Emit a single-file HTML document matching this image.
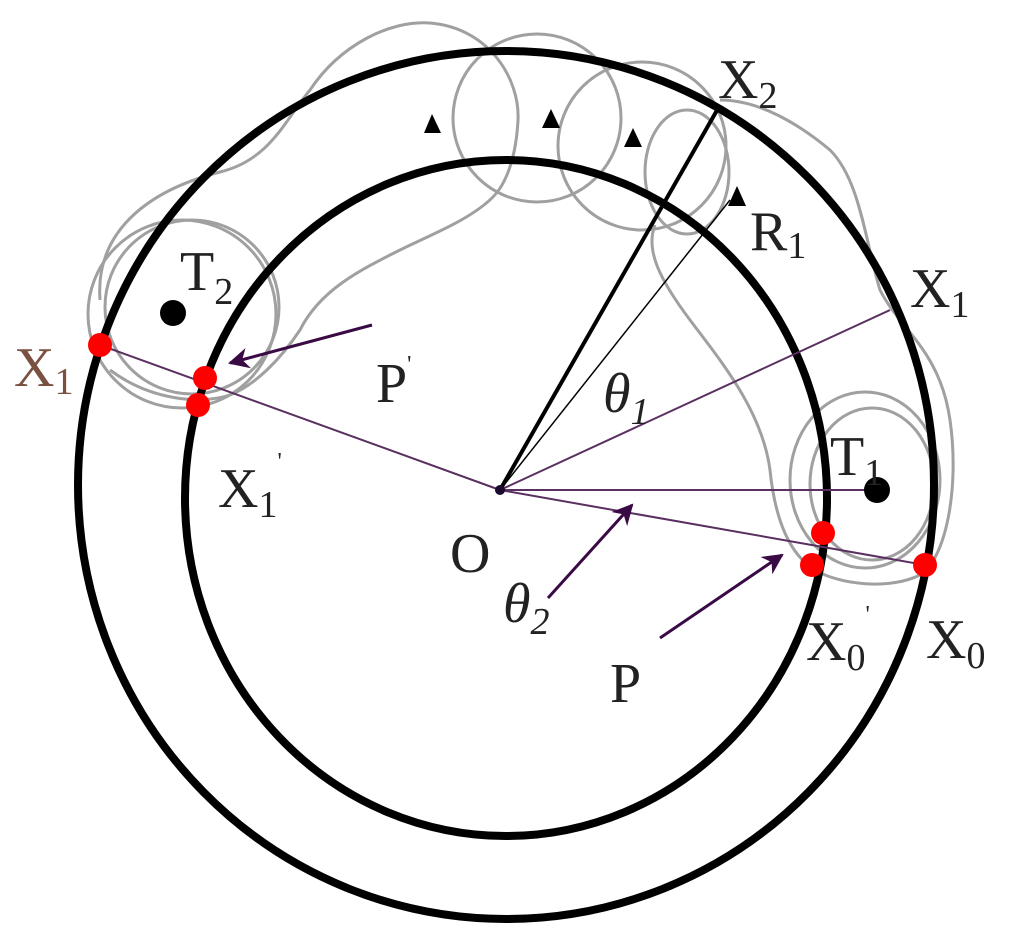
<!DOCTYPE html>
<html><head><meta charset="utf-8"><style>
html,body{margin:0;padding:0;background:#fff;width:1011px;height:944px;overflow:hidden}
text{font-family:"Liberation Serif",serif;fill:#222}
</style></head><body>
<svg width="1011" height="944" viewBox="0 0 1011 944" xmlns="http://www.w3.org/2000/svg">
<defs>
<marker id="ah" viewBox="0 0 10 10" refX="9" refY="5" markerWidth="7" markerHeight="7" orient="auto"><path d="M0,0 L10,5 L0,10 L3,5 z" fill="#3a0a45"/></marker>
</defs>
<g fill="none" stroke="#a0a0a0" stroke-width="3">
<circle cx="537" cy="118" r="84"/>
<circle cx="642" cy="146" r="84"/>
<ellipse cx="687" cy="172" rx="42" ry="62"/>
<circle cx="192" cy="307" r="87"/>
<circle cx="182" cy="314" r="94"/>
<ellipse cx="865" cy="480" rx="75" ry="88"/>
<ellipse cx="872" cy="484" rx="62" ry="76"/>
<path d="M100,300 C95,230 150,190 220,172 C270,160 285,120 310,90 C340,45 390,20 430,23 C490,28 520,80 518,120 C516,160 505,185 493,197 C470,220 430,235 400,250 C360,270 320,290 300,330 C280,360 255,385 230,395 C200,405 150,400 110,370"/>
<path d="M720,100 C760,100 800,125 830,150 C860,180 865,240 880,290 C900,330 940,350 950,420 C960,490 945,560 920,575 C890,590 840,585 815,570 C790,555 775,520 770,470 C762,410 720,360 690,320 C660,280 645,250 655,225"/>
</g>
<ellipse cx="506" cy="485" rx="428" ry="434" fill="none" stroke="#000" stroke-width="8"/>
<ellipse cx="506" cy="498" rx="321" ry="338" fill="none" stroke="#000" stroke-width="8"/>
<g stroke="#5a3060" stroke-width="2" fill="none">
<line x1="100" y1="345" x2="500" y2="490"/>
<line x1="500" y1="490" x2="890" y2="310"/>
<line x1="500" y1="490" x2="877" y2="490"/>
<line x1="500" y1="490" x2="925" y2="565"/>
</g>
<line x1="500" y1="490" x2="720" y2="105" stroke="#000" stroke-width="4"/>
<line x1="500" y1="490" x2="730" y2="200" stroke="#000" stroke-width="1.5"/>
<g stroke="#3a0a45" stroke-width="3" fill="none" marker-end="url(#ah)">
<line x1="372" y1="325" x2="230" y2="363"/>
<line x1="548" y1="598" x2="632" y2="505"/>
<line x1="660" y1="638" x2="782" y2="555"/>
</g>
<circle cx="500" cy="490" r="5" fill="#1a0a30"/>
<g fill="#000">
<polygon points="424,133 432,114 441,133"/>
<polygon points="542,128 551,109 560,128"/>
<polygon points="624,147 633,128 642,147"/>
<polygon points="728,206 737,186 746,206"/>
<circle cx="173" cy="313" r="13"/>
<circle cx="877" cy="490" r="13"/>
</g>
<g fill="#f00">
<circle cx="100" cy="345" r="12"/>
<circle cx="205" cy="378" r="12"/>
<circle cx="198" cy="405" r="12"/>
<circle cx="823" cy="533" r="12"/>
<circle cx="812" cy="565" r="12"/>
<circle cx="925" cy="565" r="12"/>
</g>
<g font-size="56">
<text x="14" y="386" style="fill:#7a5040">X<tspan font-size="38" dy="8">1</tspan></text>
<text x="180" y="290">T<tspan font-size="38" dy="14">2</tspan></text>
<text x="376" y="402">P<tspan font-size="24" dy="-30">'</tspan></text>
<text x="218" y="507">X<tspan font-size="38" dy="10">1</tspan><tspan font-size="24" dy="-48">'</tspan></text>
<text x="450" y="572">O</text>
<text x="503" y="622" font-style="italic">θ<tspan font-size="38" dy="12">2</tspan></text>
<text x="610" y="702">P</text>
<text x="718" y="98">X<tspan font-size="38" dy="10">2</tspan></text>
<text x="750" y="250">R<tspan font-size="38" dy="8">1</tspan></text>
<text x="910" y="307">X<tspan font-size="38" dy="10">1</tspan></text>
<text x="603" y="412" font-style="italic">θ<tspan font-size="38" dy="12">1</tspan></text>
<text x="830" y="475">T<tspan font-size="38" dy="10">1</tspan></text>
<text x="806" y="660">X<tspan font-size="38" dy="10">0</tspan><tspan font-size="24" dy="-48">'</tspan></text>
<text x="926" y="658">X<tspan font-size="38" dy="10">0</tspan></text>
</g>
</svg>
</body></html>
